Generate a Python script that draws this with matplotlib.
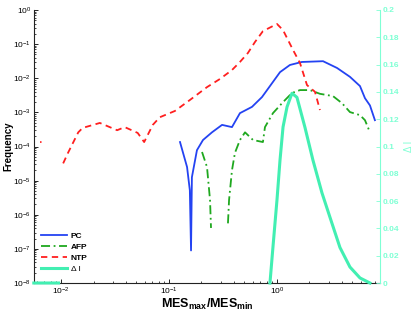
# plot.py
# MES ratio frequency chart, PC / AFP / NTP on log axes, delta I on right axis

import numpy as np
import matplotlib
matplotlib.use("Agg")
import matplotlib.pyplot as plt
from matplotlib.ticker import LogLocator, NullFormatter, FixedLocator

nan = np.nan

# PC
pc_x = [0.1265, 0.147, 0.156, 0.160, 0.163, 0.1815, 0.2065, 0.250, 0.310, 0.383, 0.454,
        0.587, 0.726, 0.861, 1.067, 1.318, 1.70, 2.67, 3.60, 4.74, 5.87, 6.53, 7.26, 8.07]
pc_y = [1.35e-4, 2.5e-5, 5.2e-6, 9e-8, 1.26e-5, 7.8e-5, 1.55e-4, 2.6e-4, 4.3e-4, 3.7e-4, 9.5e-4,
        1.45e-3, 2.8e-3, 5.9e-3, 1.51e-2, 2.45e-2, 3.0e-2, 3.16e-2, 2.0e-2, 1.1e-2, 5.9e-3,
        2.6e-3, 1.6e-3, 5.9e-4]

# AFP
afp_x = [0.2023, 0.2249, 0.2399, 0.245, nan, 0.3516, 0.360, 0.383, 0.408, 0.454, 0.506,
         0.600, 0.741, 0.774, 0.918, 1.138, 1.377, 1.633, 2.023, 2.50, 3.30, 4.00, 4.74,
         5.87, 6.53, 7.26]
afp_y = [6.9e-5, 2.5e-5, 2.7e-6, 4.1e-7, nan, 5.6e-7, 2.7e-6, 2.0e-5, 6.5e-5, 1.55e-4, 2.6e-4,
         1.55e-4, 1.35e-4, 3.7e-4, 9.5e-4, 2.0e-3, 3.7e-3, 4.5e-3, 4.5e-3, 3.5e-3, 3.0e-3,
         1.86e-3, 1.02e-3, 8.3e-4, 5.9e-4, 2.6e-4]

# NTP
ntp_x = [0.0064, 0.0066, nan, 0.01047, 0.01161, 0.01445, 0.01585, 0.0229, 0.0331, 0.0389,
         0.0513, 0.0589, 0.0708, 0.0822, 0.1135, 0.156, 0.225, 0.296, 0.383, 0.454, 0.538,
         0.625, 0.741, 1.0, 1.138, 1.406, 1.633, 1.897, 2.249, 2.50]
ntp_y = [1.35e-4, 1.35e-4, nan, 3.2e-5, 6.5e-5, 2.6e-4, 3.5e-4, 4.9e-4, 3.0e-4, 3.7e-4,
         2.5e-4, 1.35e-4, 4.3e-4, 7.2e-4, 1.1e-3, 2.3e-3, 5.5e-3, 9.5e-3, 1.74e-2, 3.0e-2,
         5.5e-2, 0.115, 0.24, 0.39, 0.257, 0.068, 0.028, 6.3e-3, 4.0e-3, 1.17e-3]

# delta I (right axis)
di_x = [0.0056, 0.0095, nan, 0.861, 0.918, 1.0, 1.067, 1.138, 1.239, 1.377, 1.531, 1.816,
        2.153, 2.61, 3.10, 3.83, 4.74, 5.87, 7.26]
di_y = [0, 0, nan, 0, 0.0264, 0.0608, 0.0901, 0.1143, 0.129, 0.139, 0.136, 0.114,
        0.090, 0.066, 0.048, 0.026, 0.0117, 0.0037, 0.0]

x_ticks = [0.01, 0.1, 1]
right_ticks = [0, 0.02, 0.04, 0.06, 0.08, 0.1, 0.12, 0.14, 0.16, 0.18, 0.2]
right_labels = ["0", "0.02", "0.04", "0.06", "0.08", "0.1", "0.12", "0.14", "0.16", "0.18", "0.2"]

c_pc = "#2443f2"
c_afp = "#1fa81f"
c_ntp = "#ff1f1f"
c_di = "#42efb2"
c_right = "#7fffd4"

plt.rcParams["font.family"] = ["Liberation Sans", "DejaVu Sans"]
plt.rcParams["mathtext.fontset"] = "custom"
plt.rcParams["mathtext.rm"] = "Liberation Sans:bold"
plt.rcParams["mathtext.it"] = "Liberation Sans:bold"
plt.rcParams["mathtext.bf"] = "Liberation Sans:bold"


def init_fig():
    fig = plt.figure(figsize=(4.15, 3.14), dpi=100)
    ax1 = fig.add_axes([34/415, 31/314, 346/415, 273/314])
    ax2 = ax1.twinx()
    return fig, ax1, ax2


def set_axes(ax1, ax2):
    ax1.set_xscale("log")
    ax1.set_yscale("log")
    ax1.set_xlim(10**-2.25, 10**0.954)
    ax1.set_ylim(1e-8, 1)
    ax1.xaxis.set_major_locator(FixedLocator(x_ticks))
    ax1.yaxis.set_major_locator(LogLocator(base=10, numticks=20))
    ax1.yaxis.set_minor_locator(LogLocator(base=10, subs=np.arange(2, 10), numticks=100))
    ax1.yaxis.set_minor_formatter(NullFormatter())
    ax1.xaxis.set_minor_locator(LogLocator(base=10, subs=np.arange(2, 10), numticks=100))
    ax1.xaxis.set_minor_formatter(NullFormatter())
    for s in ["top", "right"]:
        ax1.spines[s].set_visible(False)
    for s in ["left", "bottom"]:
        ax1.spines[s].set_linewidth(0.8)
        ax1.spines[s].set_color("#222222")
    ax1.tick_params(which="major", direction="in", length=3, width=0.6, labelsize=6, pad=2)
    ax1.tick_params(which="minor", direction="in", length=1.5, width=0.5)

    ax2.set_ylim(0, 0.2)
    ax2.yaxis.set_major_locator(FixedLocator(right_ticks))
    ax2.set_yticklabels(right_labels)
    for s in ["top", "left", "bottom"]:
        ax2.spines[s].set_visible(False)
    ax2.spines["right"].set_color(c_right)
    ax2.spines["right"].set_linewidth(0.8)
    ax2.tick_params(axis="y", direction="in", length=3, width=0.6, colors=c_right,
                    labelsize=6, pad=2)
    for lab in ax2.get_yticklabels():
        lab.set_fontweight("bold")


def main():
    fig, ax1, ax2 = init_fig()
    set_axes(ax1, ax2)

    l1, = ax1.plot(pc_x, pc_y, color=c_pc, lw=1.3, ls="-", label="PC")
    l2, = ax1.plot(afp_x, afp_y, color=c_afp, lw=1.3, ls=(0, (5, 2, 1, 2)), label="AFP")
    l3, = ax1.plot(ntp_x, ntp_y, color=c_ntp, lw=1.3, ls=(0, (3.5, 2.5)), label="NTP")
    l4, = ax2.plot(di_x, di_y, color=c_di, lw=2.2, ls="-", label="\u0394 I")
    l4.set_clip_on(False)

    ax1.set_xlabel(r"MES$_{max}$/MES$_{min}$", fontsize=9, fontweight="bold", labelpad=0)
    ax1.set_ylabel("Frequency", fontsize=7, fontweight="bold", labelpad=0)
    ax2.set_ylabel("\u0394 I", fontsize=7, color=c_right, rotation=90, labelpad=3)

    leg = ax1.legend(handles=[l1, l2, l3, l4], loc="lower left", frameon=False,
                     fontsize=6, handlelength=3.2, handletextpad=0.4, labelspacing=0.35,
                     borderaxespad=0.2, bbox_to_anchor=(0.005, 0.02))
    for t in leg.get_texts()[:3]:
        t.set_fontweight("bold")

    fig.savefig("out.png", dpi=100)


if __name__ == "__main__":
    main()
